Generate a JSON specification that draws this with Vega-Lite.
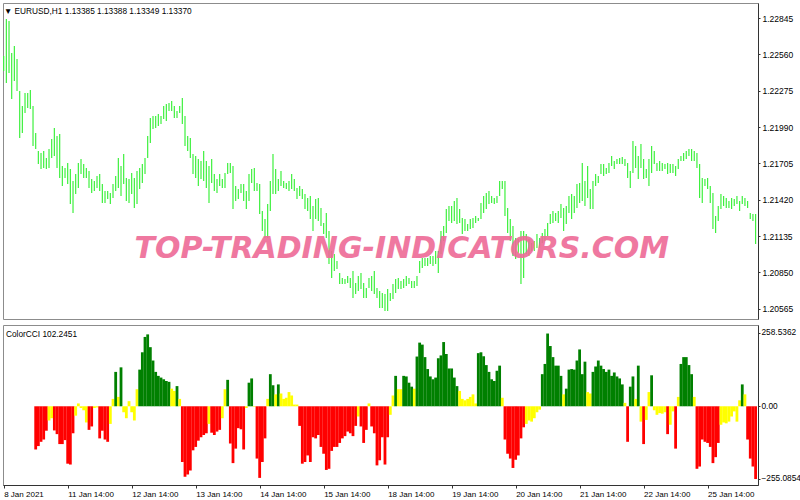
{
"$schema": "https://vega.github.io/schema/vega-lite/v6.json",
"background": "white",
"padding": {"left": 2, "top": 2, "right": 0, "bottom": 0},
"spacing": 4,
"config": {
  "font": "Liberation Sans",
  "view": {"stroke": "#8c8c8c", "strokeWidth": 1},
  "axis": {"labelFont": "Liberation Sans", "labelFontSize": 8.5, "labelColor": "#000000", "domainColor": "#333333", "tickColor": "#333333", "grid": false, "title": null, "labelOverlap": false},
  "title": {"font": "Liberation Sans", "fontSize": 8.3, "fontWeight": "normal", "color": "#000000", "anchor": "start"}
},
"data": {"values": [
{"i":0,"high":1.22548,"low":1.22431},
{"i":1,"high":1.22839,"low":1.22336},
{"i":2,"high":1.22823,"low":1.22415},
{"i":3,"high":1.22572,"low":1.22211},
{"i":4,"high":1.22627,"low":1.22352},
{"i":5,"high":1.22525,"low":1.22274},
{"i":6,"high":1.22274,"low":1.21905},
{"i":7,"high":1.22156,"low":1.21944},
{"i":8,"high":1.22258,"low":1.22101},
{"i":9,"high":1.22258,"low":1.22140},
{"i":10,"high":1.22281,"low":1.22132},
{"i":11,"high":1.22156,"low":1.21842},
{"i":12,"high":1.21944,"low":1.21818,"cci":-152,"state":"down"},
{"i":13,"high":1.21803,"low":1.21700,"cci":-140,"state":"down"},
{"i":14,"high":1.21787,"low":1.21661,"cci":-125,"state":"down"},
{"i":15,"high":1.21803,"low":1.21669,"cci":-117,"state":"down"},
{"i":16,"high":1.21748,"low":1.21661,"cci":-86,"state":"down"},
{"i":17,"high":1.21818,"low":1.21669,"cci":-50,"state":"flat"},
{"i":18,"high":1.21897,"low":1.21748,"cci":-42,"state":"flat"},
{"i":19,"high":1.21983,"low":1.21763,"cci":-85,"state":"down"},
{"i":20,"high":1.21920,"low":1.21669,"cci":-98,"state":"down"},
{"i":21,"high":1.21936,"low":1.21591,"cci":-133,"state":"down"},
{"i":22,"high":1.21685,"low":1.21528,"cci":-133,"state":"down"},
{"i":23,"high":1.21669,"low":1.21591,"cci":-119,"state":"down"},
{"i":24,"high":1.21708,"low":1.21543,"cci":-202,"state":"down"},
{"i":25,"high":1.21661,"low":1.21386,"cci":-205,"state":"down"},
{"i":26,"high":1.21567,"low":1.21316,"cci":-95,"state":"down"},
{"i":27,"high":1.21622,"low":1.21465,"cci":-33,"state":"flat"},
{"i":28,"high":1.21708,"low":1.21512,"cci":10,"state":"flat"},
{"i":29,"high":1.21740,"low":1.21622,"cci":-6,"state":"flat"},
{"i":30,"high":1.21700,"low":1.21591,"cci":-14,"state":"flat"},
{"i":31,"high":1.21669,"low":1.21591,"cci":-57,"state":"flat"},
{"i":32,"high":1.21646,"low":1.21512,"cci":-83,"state":"down"},
{"i":33,"high":1.21583,"low":1.21473,"cci":-71,"state":"down"},
{"i":34,"high":1.21567,"low":1.21489,"cci":-6,"state":"flat"},
{"i":35,"high":1.21606,"low":1.21512,"cci":-4,"state":"flat"},
{"i":36,"high":1.21622,"low":1.21489,"cci":-113,"state":"down"},
{"i":37,"high":1.21543,"low":1.21394,"cci":-86,"state":"down"},
{"i":38,"high":1.21489,"low":1.21394,"cci":-117,"state":"down"},
{"i":39,"high":1.21489,"low":1.21426,"cci":-125,"state":"down"},
{"i":40,"high":1.21473,"low":1.21386,"cci":-62,"state":"flat"},
{"i":41,"high":1.21543,"low":1.21434,"cci":26,"state":"flat"},
{"i":42,"high":1.21606,"low":1.21489,"cci":121,"state":"up"},
{"i":43,"high":1.21748,"low":1.21512,"cci":33,"state":"flat"},
{"i":44,"high":1.21685,"low":1.21449,"cci":137,"state":"up"},
{"i":45,"high":1.21779,"low":1.21543,"cci":-21,"state":"flat"},
{"i":46,"high":1.21591,"low":1.21410,"cci":-42,"state":"flat"},
{"i":47,"high":1.21583,"low":1.21394,"cci":18,"state":"flat"},
{"i":48,"high":1.21630,"low":1.21465,"cci":-21,"state":"flat"},
{"i":49,"high":1.21591,"low":1.21355,"cci":-50,"state":"flat"},
{"i":50,"high":1.21646,"low":1.21386,"cci":60,"state":"flat"},
{"i":51,"high":1.21669,"low":1.21504,"cci":129,"state":"up"},
{"i":52,"high":1.21700,"low":1.21551,"cci":190,"state":"up"},
{"i":53,"high":1.21748,"low":1.21622,"cci":244,"state":"up"},
{"i":54,"high":1.21920,"low":1.21748,"cci":253,"state":"up"},
{"i":55,"high":1.22062,"low":1.21865,"cci":208,"state":"up"},
{"i":56,"high":1.22077,"low":1.21975,"cci":161,"state":"up"},
{"i":57,"high":1.22077,"low":1.21983,"cci":121,"state":"up"},
{"i":58,"high":1.22093,"low":1.21999,"cci":107,"state":"up"},
{"i":59,"high":1.22077,"low":1.22014,"cci":101,"state":"up"},
{"i":60,"high":1.22156,"low":1.22054,"cci":95,"state":"up"},
{"i":61,"high":1.22171,"low":1.22038,"cci":89,"state":"up"},
{"i":62,"high":1.22179,"low":1.22117,"cci":86,"state":"up"},
{"i":63,"high":1.22195,"low":1.22117,"cci":62,"state":"flat"},
{"i":64,"high":1.22156,"low":1.22062,"cci":54,"state":"flat"},
{"i":65,"high":1.22117,"low":1.22062,"cci":71,"state":"up"},
{"i":66,"high":1.22156,"low":1.22101,"cci":26,"state":"flat"},
{"i":67,"high":1.22219,"low":1.22014,"cci":-196,"state":"down"},
{"i":68,"high":1.22077,"low":1.21842,"cci":-248,"state":"down"},
{"i":69,"high":1.21920,"low":1.21803,"cci":-240,"state":"down"},
{"i":70,"high":1.21905,"low":1.21748,"cci":-226,"state":"down"},
{"i":71,"high":1.21779,"low":1.21622,"cci":-155,"state":"down"},
{"i":72,"high":1.21763,"low":1.21591,"cci":-143,"state":"down"},
{"i":73,"high":1.21740,"low":1.21528,"cci":-121,"state":"down"},
{"i":74,"high":1.21724,"low":1.21583,"cci":-109,"state":"down"},
{"i":75,"high":1.21803,"low":1.21567,"cci":-101,"state":"down"},
{"i":76,"high":1.21724,"low":1.21512,"cci":-95,"state":"down"},
{"i":77,"high":1.21685,"low":1.21394,"cci":-62,"state":"flat"},
{"i":78,"high":1.21740,"low":1.21551,"cci":-93,"state":"down"},
{"i":79,"high":1.21622,"low":1.21489,"cci":-101,"state":"down"},
{"i":80,"high":1.21583,"low":1.21473,"cci":-89,"state":"down"},
{"i":81,"high":1.21622,"low":1.21528,"cci":-83,"state":"down"},
{"i":82,"high":1.21583,"low":1.21512,"cci":-42,"state":"flat"},
{"i":83,"high":1.21630,"low":1.21512,"cci":60,"state":"flat"},
{"i":84,"high":1.21708,"low":1.21622,"cci":93,"state":"up"},
{"i":85,"high":1.21708,"low":1.21630,"cci":-131,"state":"down"},
{"i":86,"high":1.21685,"low":1.21347,"cci":-200,"state":"down"},
{"i":87,"high":1.21528,"low":1.21410,"cci":-149,"state":"down"},
{"i":88,"high":1.21504,"low":1.21426,"cci":-77,"state":"down"},
{"i":89,"high":1.21543,"low":1.21473,"cci":-81,"state":"down"},
{"i":90,"high":1.21543,"low":1.21410,"cci":-152,"state":"down"},
{"i":91,"high":1.21489,"low":1.21347,"cci":-6,"state":"flat"},
{"i":92,"high":1.21622,"low":1.21410,"cci":83,"state":"up"},
{"i":93,"high":1.21661,"low":1.21551,"cci":98,"state":"up"},
{"i":94,"high":1.21669,"low":1.21489,"cci":-2,"state":"flat"},
{"i":95,"high":1.21551,"low":1.21489,"cci":-184,"state":"down"},
{"i":96,"high":1.21543,"low":1.21308,"cci":-252,"state":"down"},
{"i":97,"high":1.21332,"low":1.21175,"cci":-196,"state":"down"},
{"i":98,"high":1.21269,"low":1.21120,"cci":-113,"state":"down"},
{"i":99,"high":1.21386,"low":1.21120,"cci":26,"state":"flat"},
{"i":100,"high":1.21567,"low":1.21332,"cci":113,"state":"up"},
{"i":101,"high":1.21779,"low":1.21465,"cci":74,"state":"up"},
{"i":102,"high":1.21661,"low":1.21465,"cci":42,"state":"flat"},
{"i":103,"high":1.21583,"low":1.21489,"cci":77,"state":"up"},
{"i":104,"high":1.21646,"low":1.21528,"cci":45,"state":"flat"},
{"i":105,"high":1.21567,"low":1.21512,"cci":26,"state":"flat"},
{"i":106,"high":1.21551,"low":1.21504,"cci":30,"state":"flat"},
{"i":107,"high":1.21567,"low":1.21489,"cci":50,"state":"flat"},
{"i":108,"high":1.21622,"low":1.21504,"cci":38,"state":"flat"},
{"i":109,"high":1.21583,"low":1.21489,"cci":6,"state":"flat"},
{"i":110,"high":1.21512,"low":1.21426,"cci":6,"state":"flat"},
{"i":111,"high":1.21528,"low":1.21449,"cci":-69,"state":"down"},
{"i":112,"high":1.21504,"low":1.21426,"cci":-202,"state":"down"},
{"i":113,"high":1.21465,"low":1.21347,"cci":-196,"state":"down"},
{"i":114,"high":1.21434,"low":1.21332,"cci":-173,"state":"down"},
{"i":115,"high":1.21449,"low":1.21269,"cci":-196,"state":"down"},
{"i":116,"high":1.21371,"low":1.21175,"cci":-109,"state":"down"},
{"i":117,"high":1.21426,"low":1.21269,"cci":-113,"state":"down"},
{"i":118,"high":1.21434,"low":1.21253,"cci":-101,"state":"down"},
{"i":119,"high":1.21355,"low":1.21214,"cci":-143,"state":"down"},
{"i":120,"high":1.21237,"low":1.21151,"cci":-167,"state":"down"},
{"i":121,"high":1.21316,"low":1.21120,"cci":-224,"state":"down"},
{"i":122,"high":1.21175,"low":1.20915,"cci":-220,"state":"down"},
{"i":123,"high":1.21018,"low":1.20806,"cci":-157,"state":"down"},
{"i":124,"high":1.20994,"low":1.20861,"cci":-143,"state":"down"},
{"i":125,"high":1.20939,"low":1.20876,"cci":-143,"state":"down"},
{"i":126,"high":1.20845,"low":1.20758,"cci":-129,"state":"down"},
{"i":127,"high":1.20806,"low":1.20758,"cci":-113,"state":"down"},
{"i":128,"high":1.20798,"low":1.20758,"cci":-105,"state":"down"},
{"i":129,"high":1.20821,"low":1.20766,"cci":-89,"state":"down"},
{"i":130,"high":1.20806,"low":1.20727,"cci":-95,"state":"down"},
{"i":131,"high":1.20861,"low":1.20649,"cci":-105,"state":"down"},
{"i":132,"high":1.20766,"low":1.20680,"cci":-69,"state":"down"},
{"i":133,"high":1.20821,"low":1.20704,"cci":-36,"state":"flat"},
{"i":134,"high":1.20845,"low":1.20719,"cci":-71,"state":"down"},
{"i":135,"high":1.20766,"low":1.20649,"cci":-129,"state":"down"},
{"i":136,"high":1.20727,"low":1.20649,"cci":-83,"state":"down"},
{"i":137,"high":1.20806,"low":1.20727,"cci":10,"state":"flat"},
{"i":138,"high":1.20821,"low":1.20704,"cci":-71,"state":"down"},
{"i":139,"high":1.20861,"low":1.20680,"cci":-95,"state":"down"},
{"i":140,"high":1.20727,"low":1.20649,"cci":-208,"state":"down"},
{"i":141,"high":1.20704,"low":1.20570,"cci":-190,"state":"down"},
{"i":142,"high":1.20688,"low":1.20570,"cci":-109,"state":"down"},
{"i":143,"high":1.20680,"low":1.20547,"cci":-205,"state":"down"},
{"i":144,"high":1.20719,"low":1.20547,"cci":-109,"state":"down"},
{"i":145,"high":1.20688,"low":1.20625,"cci":-30,"state":"flat"},
{"i":146,"high":1.20758,"low":1.20641,"cci":38,"state":"flat"},
{"i":147,"high":1.20798,"low":1.20688,"cci":107,"state":"up"},
{"i":148,"high":1.20806,"low":1.20719,"cci":60,"state":"flat"},
{"i":149,"high":1.20782,"low":1.20719,"cci":60,"state":"flat"},
{"i":150,"high":1.20798,"low":1.20727,"cci":107,"state":"up"},
{"i":151,"high":1.20821,"low":1.20743,"cci":105,"state":"up"},
{"i":152,"high":1.20806,"low":1.20758,"cci":83,"state":"up"},
{"i":153,"high":1.20782,"low":1.20727,"cci":69,"state":"up"},
{"i":154,"high":1.20782,"low":1.20727,"cci":62,"state":"flat"},
{"i":155,"high":1.20821,"low":1.20743,"cci":175,"state":"up"},
{"i":156,"high":1.20939,"low":1.20845,"cci":224,"state":"up"},
{"i":157,"high":1.20963,"low":1.20884,"cci":217,"state":"up"},
{"i":158,"high":1.20963,"low":1.20900,"cci":173,"state":"up"},
{"i":159,"high":1.20963,"low":1.20900,"cci":131,"state":"up"},
{"i":160,"high":1.20978,"low":1.20915,"cci":105,"state":"up"},
{"i":161,"high":1.20978,"low":1.20900,"cci":95,"state":"up"},
{"i":162,"high":1.21018,"low":1.20915,"cci":101,"state":"up"},
{"i":163,"high":1.21018,"low":1.20845,"cci":169,"state":"up"},
{"i":164,"high":1.21175,"low":1.20994,"cci":179,"state":"up"},
{"i":165,"high":1.21214,"low":1.21096,"cci":226,"state":"up"},
{"i":166,"high":1.21347,"low":1.21159,"cci":184,"state":"up"},
{"i":167,"high":1.21371,"low":1.21253,"cci":133,"state":"up"},
{"i":168,"high":1.21371,"low":1.21237,"cci":133,"state":"up"},
{"i":169,"high":1.21410,"low":1.21253,"cci":101,"state":"up"},
{"i":170,"high":1.21434,"low":1.21229,"cci":71,"state":"up"},
{"i":171,"high":1.21347,"low":1.21237,"cci":54,"state":"flat"},
{"i":172,"high":1.21277,"low":1.21151,"cci":26,"state":"flat"},
{"i":173,"high":1.21269,"low":1.21175,"cci":21,"state":"flat"},
{"i":174,"high":1.21229,"low":1.21175,"cci":26,"state":"flat"},
{"i":175,"high":1.21269,"low":1.21190,"cci":33,"state":"flat"},
{"i":176,"high":1.21277,"low":1.21198,"cci":42,"state":"flat"},
{"i":177,"high":1.21292,"low":1.21237,"cci":10,"state":"flat"},
{"i":178,"high":1.21277,"low":1.21253,"cci":187,"state":"up"},
{"i":179,"high":1.21394,"low":1.21269,"cci":190,"state":"up"},
{"i":180,"high":1.21449,"low":1.21316,"cci":176,"state":"up"},
{"i":181,"high":1.21473,"low":1.21347,"cci":145,"state":"up"},
{"i":182,"high":1.21489,"low":1.21386,"cci":121,"state":"up"},
{"i":183,"high":1.21449,"low":1.21394,"cci":95,"state":"up"},
{"i":184,"high":1.21434,"low":1.21386,"cci":89,"state":"up"},
{"i":185,"high":1.21449,"low":1.21394,"cci":125,"state":"up"},
{"i":186,"high":1.21567,"low":1.21449,"cci":143,"state":"up"},
{"i":187,"high":1.21567,"low":1.21504,"cci":30,"state":"flat"},
{"i":188,"high":1.21567,"low":1.21292,"cci":-117,"state":"down"},
{"i":189,"high":1.21355,"low":1.21159,"cci":-167,"state":"down"},
{"i":190,"high":1.21269,"low":1.21096,"cci":-184,"state":"down"},
{"i":191,"high":1.21214,"low":1.20978,"cci":-217,"state":"down"},
{"i":192,"high":1.21120,"low":1.20955,"cci":-188,"state":"down"},
{"i":193,"high":1.21112,"low":1.21002,"cci":-173,"state":"down"},
{"i":194,"high":1.21175,"low":1.20758,"cci":-113,"state":"down"},
{"i":195,"high":1.21175,"low":1.20806,"cci":-74,"state":"down"},
{"i":196,"high":1.21151,"low":1.20994,"cci":-62,"state":"flat"},
{"i":197,"high":1.21112,"low":1.20978,"cci":-50,"state":"flat"},
{"i":198,"high":1.21080,"low":1.21018,"cci":-54,"state":"flat"},
{"i":199,"high":1.21096,"low":1.21018,"cci":-42,"state":"flat"},
{"i":200,"high":1.21151,"low":1.21041,"cci":-21,"state":"flat"},
{"i":201,"high":1.21120,"low":1.21041,"cci":-12,"state":"flat"},
{"i":202,"high":1.21159,"low":1.21080,"cci":113,"state":"up"},
{"i":203,"high":1.21190,"low":1.21096,"cci":149,"state":"up"},
{"i":204,"high":1.21237,"low":1.21135,"cci":256,"state":"up"},
{"i":205,"high":1.21308,"low":1.21229,"cci":212,"state":"up"},
{"i":206,"high":1.21332,"low":1.21237,"cci":173,"state":"up"},
{"i":207,"high":1.21316,"low":1.21253,"cci":143,"state":"up"},
{"i":208,"high":1.21332,"low":1.21237,"cci":143,"state":"up"},
{"i":209,"high":1.21386,"low":1.21277,"cci":107,"state":"up"},
{"i":210,"high":1.21355,"low":1.21175,"cci":42,"state":"flat"},
{"i":211,"high":1.21371,"low":1.21229,"cci":62,"state":"up"},
{"i":212,"high":1.21449,"low":1.21316,"cci":129,"state":"up"},
{"i":213,"high":1.21465,"low":1.21269,"cci":131,"state":"up"},
{"i":214,"high":1.21449,"low":1.21316,"cci":129,"state":"up"},
{"i":215,"high":1.21543,"low":1.21355,"cci":161,"state":"up"},
{"i":216,"high":1.21551,"low":1.21394,"cci":200,"state":"up"},
{"i":217,"high":1.21708,"low":1.21410,"cci":113,"state":"up"},
{"i":218,"high":1.21567,"low":1.21371,"cci":157,"state":"up"},
{"i":219,"high":1.21685,"low":1.21434,"cci":50,"state":"flat"},
{"i":220,"high":1.21504,"low":1.21347,"cci":45,"state":"flat"},
{"i":221,"high":1.21567,"low":1.21347,"cci":121,"state":"up"},
{"i":222,"high":1.21622,"low":1.21528,"cci":140,"state":"up"},
{"i":223,"high":1.21606,"low":1.21551,"cci":161,"state":"up"},
{"i":224,"high":1.21700,"low":1.21622,"cci":143,"state":"up"},
{"i":225,"high":1.21700,"low":1.21606,"cci":131,"state":"up"},
{"i":226,"high":1.21669,"low":1.21622,"cci":121,"state":"up"},
{"i":227,"high":1.21708,"low":1.21630,"cci":129,"state":"up"},
{"i":228,"high":1.21763,"low":1.21685,"cci":107,"state":"up"},
{"i":229,"high":1.21724,"low":1.21661,"cci":119,"state":"up"},
{"i":230,"high":1.21740,"low":1.21700,"cci":105,"state":"up"},
{"i":231,"high":1.21748,"low":1.21700,"cci":98,"state":"up"},
{"i":232,"high":1.21755,"low":1.21700,"cci":77,"state":"up"},
{"i":233,"high":1.21740,"low":1.21685,"cci":12,"state":"flat"},
{"i":234,"high":1.21708,"low":1.21591,"cci":-125,"state":"down"},
{"i":235,"high":1.21646,"low":1.21512,"cci":69,"state":"up"},
{"i":236,"high":1.21881,"low":1.21630,"cci":105,"state":"up"},
{"i":237,"high":1.21842,"low":1.21669,"cci":26,"state":"flat"},
{"i":238,"high":1.21763,"low":1.21583,"cci":143,"state":"up"},
{"i":239,"high":1.21857,"low":1.21669,"cci":-54,"state":"flat"},
{"i":240,"high":1.21740,"low":1.21583,"cci":-133,"state":"down"},
{"i":241,"high":1.21661,"low":1.21591,"cci":-48,"state":"flat"},
{"i":242,"high":1.21740,"low":1.21528,"cci":50,"state":"flat"},
{"i":243,"high":1.21842,"low":1.21630,"cci":109,"state":"up"},
{"i":244,"high":1.21803,"low":1.21700,"cci":-14,"state":"flat"},
{"i":245,"high":1.21708,"low":1.21646,"cci":-30,"state":"flat"},
{"i":246,"high":1.21724,"low":1.21646,"cci":-24,"state":"flat"},
{"i":247,"high":1.21708,"low":1.21646,"cci":-26,"state":"flat"},
{"i":248,"high":1.21700,"low":1.21661,"cci":-21,"state":"flat"},
{"i":249,"high":1.21708,"low":1.21622,"cci":-98,"state":"down"},
{"i":250,"high":1.21700,"low":1.21630,"cci":-65,"state":"flat"},
{"i":251,"high":1.21700,"low":1.21630,"cci":-18,"state":"flat"},
{"i":252,"high":1.21685,"low":1.21606,"cci":-149,"state":"down"},
{"i":253,"high":1.21740,"low":1.21661,"cci":33,"state":"flat"},
{"i":254,"high":1.21763,"low":1.21724,"cci":149,"state":"up"},
{"i":255,"high":1.21787,"low":1.21724,"cci":173,"state":"up"},
{"i":256,"high":1.21803,"low":1.21740,"cci":173,"state":"up"},
{"i":257,"high":1.21818,"low":1.21763,"cci":145,"state":"up"},
{"i":258,"high":1.21818,"low":1.21724,"cci":113,"state":"up"},
{"i":259,"high":1.21803,"low":1.21724,"cci":33,"state":"flat"},
{"i":260,"high":1.21787,"low":1.21669,"cci":-220,"state":"down"},
{"i":261,"high":1.21700,"low":1.21434,"cci":-212,"state":"down"},
{"i":262,"high":1.21591,"low":1.21394,"cci":-117,"state":"down"},
{"i":263,"high":1.21583,"low":1.21528,"cci":-125,"state":"down"},
{"i":264,"high":1.21591,"low":1.21504,"cci":-129,"state":"down"},
{"i":265,"high":1.21528,"low":1.21394,"cci":-143,"state":"down"},
{"i":266,"high":1.21473,"low":1.21190,"cci":-200,"state":"down"},
{"i":267,"high":1.21292,"low":1.21159,"cci":-179,"state":"down"},
{"i":268,"high":1.21371,"low":1.21253,"cci":-129,"state":"down"},
{"i":269,"high":1.21465,"low":1.21347,"cci":-65,"state":"flat"},
{"i":270,"high":1.21449,"low":1.21371,"cci":-57,"state":"flat"},
{"i":271,"high":1.21434,"low":1.21355,"cci":-60,"state":"flat"},
{"i":272,"high":1.21410,"low":1.21355,"cci":-54,"state":"flat"},
{"i":273,"high":1.21434,"low":1.21347,"cci":-36,"state":"flat"},
{"i":274,"high":1.21426,"low":1.21371,"cci":-18,"state":"flat"},
{"i":275,"high":1.21449,"low":1.21386,"cci":-54,"state":"flat"},
{"i":276,"high":1.21410,"low":1.21332,"cci":21,"state":"flat"},
{"i":277,"high":1.21449,"low":1.21386,"cci":77,"state":"up"},
{"i":278,"high":1.21434,"low":1.21371,"cci":42,"state":"flat"},
{"i":279,"high":1.21410,"low":1.21355,"cci":-117,"state":"down"},
{"i":280,"high":1.21316,"low":1.21269,"cci":-184,"state":"down"},
{"i":281,"high":1.21308,"low":1.21253,"cci":-212,"state":"down"},
{"i":282,"high":1.21308,"low":1.21072,"cci":-256,"state":"down"}
]},
"vconcat": [
  {
    "width": 755,
    "height": 316,
    "title": {"text": "▼ EURUSD,H1  1.13385 1.13388 1.13349 1.13370", "offset": -12, "dx": 1},
    "layer": [
      {
        "mark": {"type": "rule", "color": "#3ef03e", "strokeWidth": 1.2},
        "encoding": {
          "x": {"field": "i", "type": "quantitative", "scale": {"domain": [-0.26, 282.9], "nice": false, "zero": false, "padding": 0}, "axis": null},
          "y": {"field": "high", "type": "quantitative", "scale": {"domain": [1.20484, 1.22964], "nice": false, "zero": false, "padding": 0},
                "axis": {"orient": "right", "values": [1.20565, 1.2085, 1.21135, 1.2142, 1.21705, 1.2199, 1.22275, 1.2256, 1.22845], "format": ".5f", "tickSize": 2, "labelPadding": 2, "labelOverlap": false}},
          "y2": {"field": "low"}
        }
      },
      {
        "data": {"values": [{}]},
        "mark": {"type": "text", "text": "TOP-TRADING-INDICATORS.COM", "font": "DejaVu Sans", "fontSize": 30, "fontWeight": "bold", "fontStyle": "italic", "color": "#ee6a96", "opacity": 0.9, "align": "center", "baseline": "middle"},
        "encoding": {
          "x": {"datum": 149.3, "type": "quantitative", "axis": null},
          "y": {"datum": 1.21033, "type": "quantitative",
                "axis": {"orient": "right", "values": [1.20565, 1.2085, 1.21135, 1.2142, 1.21705, 1.2199, 1.22275, 1.2256, 1.22845], "format": ".5f", "tickSize": 2, "labelPadding": 2, "labelOverlap": false}}
        }
      }
    ]
  },
  {
    "width": 755,
    "height": 160,
    "title": {"text": "ColorCCI 102.2451", "offset": -13, "dx": 3},
    "transform": [{"filter": "isValid(datum.cci)"}],
    "mark": {"type": "bar", "width": 2.8},
    "encoding": {
      "x": {"field": "i", "type": "quantitative", "scale": {"domain": [-0.26, 282.9], "nice": false, "zero": false, "padding": 0},
            "axis": {"orient": "bottom", "values": [0, 24, 48, 72, 96, 120, 144, 168, 192, 216, 240, 264],
                     "labelExpr": "['8 Jan 2021','11 Jan 14:00','12 Jan 14:00','13 Jan 14:00','14 Jan 14:00','15 Jan 14:00','18 Jan 14:00','19 Jan 14:00','20 Jan 14:00','21 Jan 14:00','22 Jan 14:00','25 Jan 14:00'][round(datum.value/24)]",
                     "labelAlign": "left", "labelPadding": 2, "tickSize": 3, "labelFontSize": 8, "labelFlush": false}},
      "y": {"field": "cci", "type": "quantitative", "scale": {"domain": [-277, 286], "nice": false, "zero": false, "padding": 0},
            "axis": {"orient": "right", "values": [-255.0854, 0, 258.5362], "labelExpr": "datum.value == 0 ? '0.00' : format(datum.value, '.4f')", "tickSize": 2, "labelPadding": 1, "labelFontSize": 8.3}},
      "y2": {"datum": 0},
      "color": {"field": "state", "type": "nominal", "scale": {"domain": ["down", "flat", "up"], "range": ["#ff0000", "#ffff00", "#008000"]}, "legend": null}
    }
  }
]
}
